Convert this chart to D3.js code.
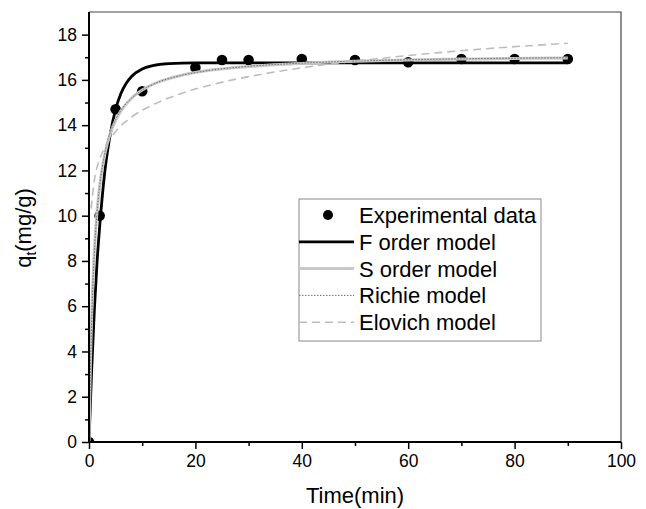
<!DOCTYPE html>
<html>
<head>
<meta charset="utf-8">
<script src="https://cdn.jsdelivr.net/npm/d3@7"></script>
<style>
  body { margin: 0; background: #fff; }
  svg { font-family: "Liberation Sans", Arial, sans-serif; }
</style>
</head>
<body>
<svg id="chart" width="646" height="509"></svg>
<script>
// experimental points
const expTime = [0, 2, 5, 10, 20, 25, 30, 40, 50, 60, 70, 80, 90];
const expQ = [0, 10.0, 14.7, 15.5, 16.55, 16.88, 16.88, 16.92, 16.88, 16.78, 16.92, 16.92, 16.92];

// model curves
const fTime = [0, 0.5, 1, 1.5, 2, 3, 4, 5, 6, 7, 8, 10, 12, 15, 20, 30, 50, 90];
const fQ = [0, 3.2, 5.8, 7.9, 9.5, 12.0, 13.6, 14.7, 15.4, 15.85, 16.15, 16.48, 16.63, 16.72, 16.75, 16.75, 16.75, 16.75];

const sTime = [0, 0.25, 0.5, 1, 1.5, 2, 3, 4, 5, 6, 8, 10, 13, 17, 22, 30, 40, 50, 60, 70, 80, 90];
const sQ = [0, 3.33, 5.57, 8.42, 10.14, 11.3, 12.75, 13.63, 14.21, 14.63, 15.19, 15.55, 15.9, 16.18, 16.4, 16.59, 16.73, 16.82, 16.88, 16.92, 16.95, 16.97];

const rTime = [0, 0.25, 0.5, 1, 1.5, 2, 3, 4, 5, 6, 8, 10, 13, 17, 22, 30, 40, 50, 60, 70, 80, 90];
const rQ = [0, 3.0, 5.3, 8.3, 10.1, 11.3, 12.8, 13.7, 14.25, 14.66, 15.2, 15.55, 15.9, 16.18, 16.4, 16.6, 16.74, 16.83, 16.89, 16.93, 16.96, 16.98];

const eTime = [0.4, 1, 2, 3, 5, 8, 12, 17, 24, 32, 42, 56, 70, 90];
const eQ = [10.31, 11.55, 12.49, 13.03, 13.72, 14.36, 14.9, 15.37, 15.84, 16.23, 16.6, 16.98, 17.29, 17.62];

const xMajor = [0, 20, 40, 60, 80, 100];
const xMinor = [10, 30, 50, 70, 90];
const yMajor = [0, 2, 4, 6, 8, 10, 12, 14, 16, 18];
const yMinor = [1, 3, 5, 7, 9, 11, 13, 15, 17];

const legendLabels = ["Experimental data", "F order model", "S order model", "Richie model", "Elovich model"];

const svg = d3.select("#chart");
const plotL = 89, plotR = 621, plotT = 12, plotB = 442;

const x = d3.scaleLinear().domain([0, 100]).range([plotL, plotR]);
const y = d3.scaleLinear().domain([0, 19]).range([plotB, plotT]);

svg.append("clipPath").attr("id", "plotclip")
  .append("rect")
  .attr("x", plotL).attr("y", plotT)
  .attr("width", plotR - plotL).attr("height", plotB - plotT);

// frame (top and right)
svg.append("path")
  .attr("d", `M${plotL},${plotT}H${plotR}V${plotB}`)
  .attr("fill", "none")
  .attr("stroke", "#444")
  .attr("stroke-width", 1.2);

const plot = svg.append("g").attr("clip-path", "url(#plotclip)");

// markers first, lines on top
plot.selectAll("circle.exp")
  .data(expTime.map((t, i) => [t, expQ[i]]))
  .join("circle")
  .attr("class", "exp")
  .attr("cx", d => x(d[0]))
  .attr("cy", d => y(d[1]))
  .attr("r", 5.3)
  .attr("fill", "#000");

const line = d3.line()
  .x(d => x(d[0]))
  .y(d => y(d[1]))
  .curve(d3.curveMonotoneX);

const zip = (a, b) => a.map((t, i) => [t, b[i]]);

const styles = [
  { data: zip(fTime, fQ), stroke: "#000", width: 2.8, dash: null },
  { data: zip(sTime, sQ), stroke: "#c8c8c8", width: 3, dash: null },
  { data: zip(rTime, rQ), stroke: "#707070", width: 1, dash: "1.5,1.5" },
  { data: zip(eTime, eQ), stroke: "#bdbdbd", width: 1.6, dash: "8,5" }
];

styles.forEach(s => {
  plot.append("path")
    .datum(s.data)
    .attr("d", line)
    .attr("fill", "none")
    .attr("stroke", s.stroke)
    .attr("stroke-width", s.width)
    .attr("stroke-dasharray", s.dash);
});

// axes
const xAxis = svg.append("g").attr("transform", `translate(0,${plotB})`);
xAxis.call(d3.axisBottom(x).tickValues(xMajor).tickSize(7).tickPadding(6).tickFormat(d3.format("d")));
xAxis.append("g").call(d3.axisBottom(x).tickValues(xMinor).tickSize(4).tickFormat(""));
xAxis.selectAll(".domain").remove();
xAxis.append("line").attr("x1", plotL - 1).attr("x2", plotR).attr("stroke", "#000").attr("stroke-width", 2);

const yAxis = svg.append("g").attr("transform", `translate(${plotL},0)`);
yAxis.call(d3.axisLeft(y).tickValues(yMajor).tickSize(7).tickPadding(5).tickFormat(d3.format("d")));
yAxis.append("g").call(d3.axisLeft(y).tickValues(yMinor).tickSize(4).tickFormat(""));
yAxis.selectAll(".domain").remove();
yAxis.append("line").attr("y1", plotT).attr("y2", plotB + 1).attr("stroke", "#000").attr("stroke-width", 2);

svg.selectAll(".tick line").attr("stroke", "#000").attr("stroke-width", 1.5);
svg.selectAll(".tick text")
  .attr("font-family", "Liberation Sans, Arial, sans-serif")
  .attr("font-size", 17.5)
  .attr("fill", "#000");

// axis titles
svg.append("text")
  .attr("x", (plotL + plotR) / 2)
  .attr("y", 503)
  .attr("text-anchor", "middle")
  .attr("font-size", 22)
  .text("Time(min)");

const yt = svg.append("text")
  .attr("transform", "translate(31,228) rotate(-90)")
  .attr("text-anchor", "middle")
  .attr("font-size", 22);
yt.append("tspan").text("q");
yt.append("tspan").attr("font-size", 14).attr("dy", 5).text("t");
yt.append("tspan").attr("dy", -5).text("(mg/g)");

// legend
const lg = svg.append("g");
lg.append("rect")
  .attr("x", 299).attr("y", 199)
  .attr("width", 242).attr("height", 142)
  .attr("fill", "#fff")
  .attr("stroke", "#888")
  .attr("stroke-width", 1);

const rowY = i => 215 + i * 26.8;

lg.append("circle").attr("cx", 328).attr("cy", rowY(0)).attr("r", 5).attr("fill", "#000");
styles.forEach((s, i) => {
  lg.append("line")
    .attr("x1", 299).attr("x2", 354)
    .attr("y1", rowY(i + 1)).attr("y2", rowY(i + 1))
    .attr("stroke", s.stroke)
    .attr("stroke-width", s.width)
    .attr("stroke-dasharray", s.dash);
});

lg.selectAll("text.lbl")
  .data(legendLabels)
  .join("text")
  .attr("class", "lbl")
  .attr("x", 359)
  .attr("y", (d, i) => rowY(i))
  .attr("dy", "0.36em")
  .attr("font-size", 22)
  .text(d => d);
</script>
</body>
</html>
